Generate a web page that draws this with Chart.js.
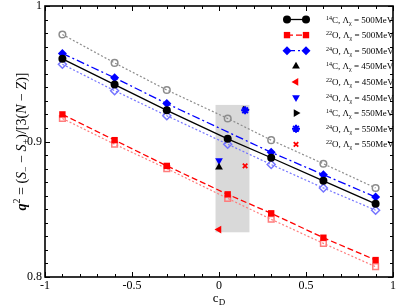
<!DOCTYPE html>
<html>
<head>
<meta charset="utf-8">
<script src="https://cdn.jsdelivr.net/npm/chart.js@4/dist/chart.umd.min.js"></script>
<style>
  body { margin: 0; background: #fff; }
  canvas { display: block; }
</style>
</head>
<body>
<canvas id="chart" width="399" height="307"></canvas>
<script>
// c_D values and q^2
const cD = [-0.9, -0.6, -0.3, 0.05, 0.3, 0.6, 0.9];
const c14L500 = [0.961, 0.942, 0.923, 0.902, 0.888, 0.871, 0.854];
const o22L500 = [0.920, 0.901, 0.882, 0.861, 0.847, 0.829, 0.8125];
const o24L500 = [0.965, 0.947, 0.928, null, 0.892, 0.8755, 0.859];
const grayOpen = [0.979, 0.958, 0.938, 0.917, 0.901, 0.8836, 0.8657];
const blueOpen = [0.957, 0.9375, 0.919, 0.898, 0.883, 0.8657, 0.8493];
const redOpen = [0.917, 0.898, 0.880, 0.858, 0.8426, 0.8248, 0.8076];

// single points for other cutoffs
const x450 = 0.0;
const x550 = 0.15;
const c14L450 = 0.881;
const o22L450 = 0.835;
const o24L450 = 0.886;
const c14L550 = 0.9235;
const o24L550 = 0.923;
const o22L550 = 0.882;

// shaded region
const bandX = [-0.02, 0.175];
const bandY = [0.833, 0.927];

const xTicks = [-1, -0.5, 0, 0.5, 1];
const xTickLabels = ['-1', '-0.5', '0', '0.5', '1'];
const yTicks = [0.8, 0.9, 1];
const yTickLabels = ['0.8', '0.9', '1'];

const SERIF = '"Liberation Serif", "DejaVu Serif", serif';

function pts(ys) {
  return cD.map((x, i) => ({ x: x, y: ys[i] }));
}

const datasets = [
  { label: '14C 500', data: pts(c14L500), showLine: true, borderColor: '#000', backgroundColor: '#000',
    borderWidth: 1.3, pointStyle: 'circle', pointRadius: 4, pointBorderWidth: 0, order: 3 },
  { label: '22O 500', data: pts(o22L500), showLine: true, borderColor: '#ff0000', backgroundColor: '#ff0000',
    borderWidth: 1.3, borderDash: [6, 3], pointStyle: 'rect', pointRadius: 4.5, pointBorderWidth: 0, order: 4 },
  { label: '24O 500', data: pts(o24L500), showLine: true, spanGaps: true, borderColor: '#0000ff', backgroundColor: '#0000ff',
    borderWidth: 1.3, borderDash: [8, 3, 2, 3], pointStyle: 'rectRot', pointRadius: 4.5, pointBorderWidth: 0, order: 5 },
  { label: 'gray', data: pts(grayOpen), showLine: true, borderColor: '#8c8c8c', backgroundColor: 'rgba(255,255,255,0)',
    borderWidth: 1.2, borderDash: [2, 2], pointStyle: 'circle', pointRadius: 3.3, pointBorderWidth: 1.5, order: 9 },
  { label: 'blue open', data: pts(blueOpen), showLine: true, borderColor: '#7575ff', backgroundColor: 'rgba(255,255,255,0)',
    borderWidth: 1.2, borderDash: [2, 2], pointStyle: 'rectRot', pointRadius: 4, pointBorderWidth: 1.5, order: 8 },
  { label: 'red open', data: pts(redOpen), showLine: true, borderColor: '#ff7c7c', backgroundColor: 'rgba(255,255,255,0)',
    borderWidth: 1.2, borderDash: [2, 2], pointStyle: 'rect', pointRadius: 4, pointBorderWidth: 1.5, order: 7 },
  { label: '14C 450', data: [{ x: x450, y: c14L450 }], borderColor: '#000', backgroundColor: '#000',
    pointStyle: 'triangle', pointRadius: 4.5, pointBorderWidth: 0, order: 2 },
  { label: '22O 450', data: [{ x: x450, y: o22L450 }], borderColor: '#ff0000', backgroundColor: '#ff0000',
    pointStyle: 'triangle', rotation: 270, pointRotation: 270, pointRadius: 4.5, pointBorderWidth: 0, order: 2 },
  { label: '24O 450', data: [{ x: x450, y: o24L450 }], borderColor: '#0000ff', backgroundColor: '#0000ff',
    pointStyle: 'triangle', pointRotation: 180, pointRadius: 4.5, pointBorderWidth: 0, order: 2 },
  { label: '14C 550', data: [{ x: x550, y: c14L550 }], borderColor: '#000', backgroundColor: '#000',
    pointStyle: 'triangle', pointRotation: 90, pointRadius: 4.5, pointBorderWidth: 0, order: 2 },
  { label: '24O 550', data: [{ x: x550, y: o24L550 }], borderColor: '#0000ff', backgroundColor: '#0000ff',
    pointStyle: 'star', pointRadius: 4, pointBorderWidth: 2, order: 1 },
  { label: '22O 550', data: [{ x: x550, y: o22L550 }], borderColor: '#ff0000', backgroundColor: '#ff0000',
    pointStyle: 'crossRot', pointRadius: 3.2, pointBorderWidth: 1.8, order: 1 }
];

// legend rows: [superscript, element, cutoff, dataset index, with line]
const legendRows = [
  ['14', 'C', '500', 0, true],
  ['22', 'O', '500', 1, true],
  ['24', 'O', '500', 2, true],
  ['14', 'C', '450', 6, false],
  ['22', 'O', '450', 7, false],
  ['24', 'O', '450', 8, false],
  ['14', 'C', '550', 9, false],
  ['24', 'O', '550', 10, false],
  ['22', 'O', '550', 11, false]
];

function drawRich(ctx, parts, x, y) {
  // parts: [text, font, dy]; x is centre
  let total = 0;
  parts.forEach(p => { ctx.font = p[1]; total += ctx.measureText(p[0]).width; });
  let cx = x - total / 2;
  parts.forEach(p => {
    ctx.font = p[1];
    ctx.fillText(p[0], cx, y + (p[2] || 0));
    cx += ctx.measureText(p[0]).width;
  });
}

function marker(ctx, ds, x, y) {
  ctx.save();
  ctx.fillStyle = ds.backgroundColor;
  ctx.strokeStyle = ds.borderColor;
  ctx.lineWidth = ds.pointBorderWidth;
  Chart.helpers.drawPoint(ctx, {
    pointStyle: ds.pointStyle,
    radius: ds.pointRadius,
    rotation: ds.pointRotation || 0,
    borderWidth: ds.pointBorderWidth
  }, x, y);
  ctx.restore();
}

const decor = {
  id: 'decor',
  beforeDatasetsDraw(chart) {
    const ctx = chart.ctx, xs = chart.scales.x, ys = chart.scales.y;
    const l = xs.getPixelForValue(bandX[0]), r = xs.getPixelForValue(bandX[1]);
    const t = ys.getPixelForValue(bandY[1]), b = ys.getPixelForValue(bandY[0]);
    ctx.save();
    ctx.fillStyle = '#d9d9d9';
    ctx.fillRect(l, t, r - l, b - t);
    ctx.restore();
  },
  afterDraw(chart) {
    const ctx = chart.ctx, xs = chart.scales.x, ys = chart.scales.y;
    const a = chart.chartArea;
    ctx.save();
    ctx.strokeStyle = '#000';
    ctx.lineWidth = 1;
    // inward ticks on all four sides
    for (let i = -10; i <= 10; i++) {
      const px = Math.round(xs.getPixelForValue(i / 10)) + 0.5;
      const len = i % 5 === 0 ? 5 : 3;
      ctx.beginPath();
      ctx.moveTo(px, a.bottom); ctx.lineTo(px, a.bottom - len);
      ctx.moveTo(px, a.top); ctx.lineTo(px, a.top + len);
      ctx.stroke();
    }
    for (let i = 80; i <= 100; i++) {
      const py = Math.round(ys.getPixelForValue(i / 100)) + 0.5;
      const len = i % 10 === 0 ? 5 : 3;
      ctx.beginPath();
      ctx.moveTo(a.left, py); ctx.lineTo(a.left + len, py);
      ctx.moveTo(a.right, py); ctx.lineTo(a.right - len, py);
      ctx.stroke();
    }
    ctx.lineWidth = 1.6;
    ctx.strokeRect(a.left, a.top, a.right - a.left, a.bottom - a.top);

    // tick labels
    ctx.fillStyle = '#000';
    ctx.font = '12px ' + SERIF;
    ctx.textAlign = 'right';
    ctx.textBaseline = 'middle';
    yTicks.forEach((v, i) => ctx.fillText(yTickLabels[i], a.left - 3, ys.getPixelForValue(v)));
    ctx.textAlign = 'center';
    xTicks.forEach((v, i) => ctx.fillText(xTickLabels[i], xs.getPixelForValue(v), a.bottom + 9));

    // axis titles
    ctx.textAlign = 'left';
    ctx.textBaseline = 'alphabetic';
    drawRich(ctx, [['c', '13px ' + SERIF], ['D', '9px ' + SERIF, 3]], (a.left + a.right) / 2, 302);

    ctx.save();
    ctx.translate(26, (a.top + a.bottom) / 2);
    ctx.rotate(-Math.PI / 2);
    const n = '14px ' + SERIF, it = 'italic 14px ' + SERIF, sm = '10px ' + SERIF;
    drawRich(ctx, [
      ['q', 'bold italic 14px ' + SERIF], ['2', sm, -6], [' = (', n], ['S', it], ['\u2212', sm, 3],
      [' \u2212 ', n], ['S', it], ['+', sm, 3], [')/[3(', n], ['N', it], [' \u2212 ', n], ['Z', it], [')]', n]
    ], 0, 0);
    ctx.restore();

    // legend
    legendRows.forEach((row, i) => {
      const y = 19.5 + i * 15.6;
      const ds = chart.data.datasets[row[3]];
      if (row[4]) {
        ctx.save();
        ctx.strokeStyle = ds.borderColor;
        ctx.lineWidth = ds.borderWidth;
        ctx.setLineDash(ds.borderDash || []);
        ctx.beginPath();
        ctx.moveTo(287, y); ctx.lineTo(306, y);
        ctx.stroke();
        ctx.restore();
        marker(ctx, ds, 287, y);
        marker(ctx, ds, 306, y);
      } else {
        marker(ctx, ds, 296, y);
      }
      ctx.fillStyle = '#000';
      ctx.textAlign = 'left';
      ctx.textBaseline = 'alphabetic';
      let tx = 326;
      const parts = [
        [row[0], '6px ' + SERIF, -3], [row[1] + ', \u039b', '9px ' + SERIF], ['\u03c7', '6px ' + SERIF, 2],
        [' = ' + row[2] + 'MeV', '9px ' + SERIF]
      ];
      parts.forEach(p => {
        ctx.font = p[1];
        ctx.fillText(p[0], tx, y + 3 + (p[2] || 0));
        tx += ctx.measureText(p[0]).width;
      });
    });
    ctx.restore();
  }
};

new Chart(document.getElementById('chart'), {
  type: 'scatter',
  data: { datasets: datasets },
  options: {
    responsive: false,
    animation: false,
    devicePixelRatio: 1,
    layout: { padding: { top: 5, right: 4, left: 0, bottom: 0 } },
    plugins: { legend: { display: false }, tooltip: { enabled: false } },
    scales: {
      x: {
        type: 'linear', min: -1, max: 1,
        grid: { display: false }, border: { display: false },
        ticks: { display: false },
        afterFit: s => { s.height = 30; }
      },
      y: {
        type: 'linear', min: 0.8, max: 1,
        grid: { display: false }, border: { display: false },
        ticks: { display: false },
        afterFit: s => { s.width = 45; }
      }
    }
  },
  plugins: [decor]
});
</script>
</body>
</html>
